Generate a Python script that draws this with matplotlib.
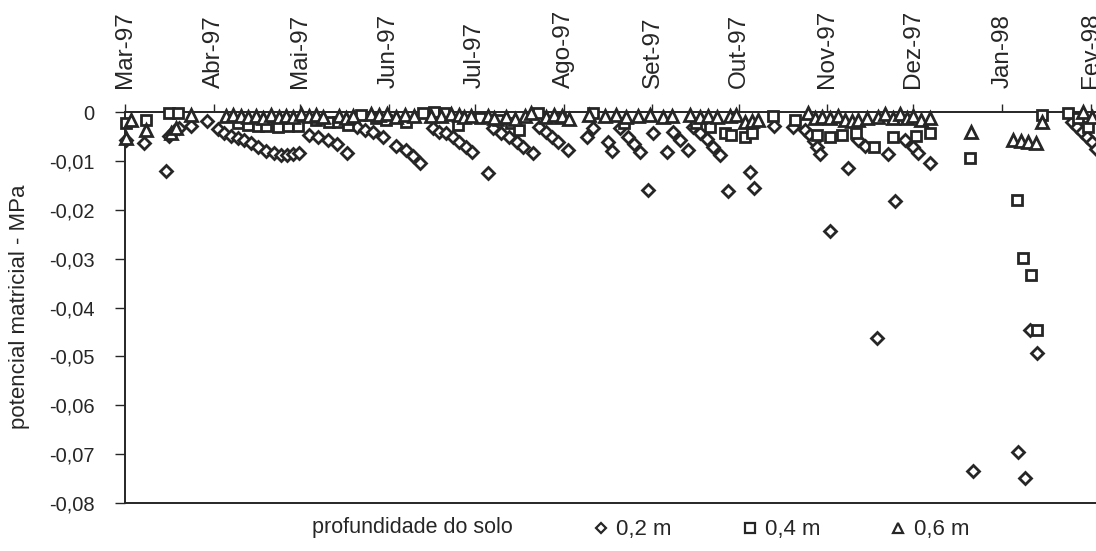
import numpy as np
import matplotlib
matplotlib.use("Agg")
import matplotlib.pyplot as plt
import matplotlib.dates as mdates
from matplotlib.lines import Line2D
from datetime import datetime, timedelta

plt.rcParams['font.family'] = ['Liberation Sans', 'DejaVu Sans']

START = datetime(1997, 3, 1)

month_labels = ["Mar-97", "Abr-97", "Mai-97", "Jun-97", "Jul-97", "Ago-97",
                "Set-97", "Out-97", "Nov-97", "Dez-97", "Jan-98", "Fev-98"]
month_starts = ["1997-03-01", "1997-04-01", "1997-05-01", "1997-06-01", "1997-07-01",
                "1997-08-01", "1997-09-01", "1997-10-01", "1997-11-01", "1997-12-01",
                "1998-01-01", "1998-02-01"]

# days since 1 Mar 1997 and matric potential (MPa)
d02_days = [0.3, 6.6, 14.3, 15.3, 17, 18.8, 23, 28.6, 32.4, 34.5, 36.9, 39.4, 41.5, 43.9,
            46.3, 49.1, 51.9, 54.4, 56.4, 58.5, 60.6, 64.1, 67.2, 70.7, 73.9, 77.4, 80.8,
            83.6, 86.4, 89.9, 94.4, 97.9, 100.3, 102.8, 107.3, 109.4, 111.8, 114.3, 116.4,
            118.8, 120.9, 126.5, 128.2, 131, 133.8, 136.9, 139, 142.2, 144.3, 146.7, 149.1,
            151.2, 154.4, 161.3, 163.1, 168.6, 170, 172.8, 175.3, 177.4, 179.8, 182.6, 184.3,
            189.2, 191.3, 193.7, 196.5, 198.3, 200.7, 203.1, 205.2, 207.7, 210.5, 218.1,
            219.5, 226.5, 233.1, 237.3, 239, 240.4, 241.5, 242.5, 246, 252.3, 255.7, 258.2,
            262.4, 266.2, 268.6, 272.1, 274.9, 276.7, 280.8, 295.8, 311.5, 313.9, 315.7,
            318.1, 330.3, 332.1, 333.8, 335.5, 337.3, 338.7]
d02_vals = [-0.0057, -0.0063, -0.0121, -0.0049, -0.0039, -0.0033, -0.0029, -0.0018, -0.0035,
            -0.0043, -0.0049, -0.0053, -0.0057, -0.0063, -0.0072, -0.0080, -0.0084, -0.0088,
            -0.0088, -0.0086, -0.0084, -0.0047, -0.0051, -0.0057, -0.0065, -0.0084, -0.0031,
            -0.0037, -0.0041, -0.0051, -0.0070, -0.0078, -0.0090, -0.0104, -0.0033, -0.0041,
            -0.0043, -0.0051, -0.0061, -0.0072, -0.0082, -0.0125, -0.0033, -0.0043, -0.0051,
            -0.0061, -0.0072, -0.0084, -0.0031, -0.0041, -0.0051, -0.0061, -0.0078, -0.0051,
            -0.0033, -0.0061, -0.0080, -0.0033, -0.0051, -0.0065, -0.0082, -0.0160, -0.0043,
            -0.0082, -0.0041, -0.0057, -0.0078, -0.0031, -0.0043, -0.0055, -0.0072, -0.0088,
            -0.0162, -0.0123, -0.0155, -0.0029, -0.0031, -0.0037, -0.0047, -0.0059, -0.0072,
            -0.0086, -0.0243, -0.0115, -0.0057, -0.0070, -0.0462, -0.0086, -0.0182, -0.0057,
            -0.0072, -0.0084, -0.0104, -0.0734, -0.0695, -0.0748, -0.0446, -0.0493, -0.0020,
            -0.0031, -0.0041, -0.0051, -0.0061, -0.0076]

d04_days = [0.3, 7.3, 15.3, 18.5, 39.4, 42.9, 46.3, 49.1, 53.3, 56.8, 60.3, 66.6, 71.1, 74.2,
            77.7, 82.2, 87.5, 90.9, 97.9, 103.8, 107.7, 111.1, 116, 124, 130, 134.5, 137.6,
            143.9, 151.9, 163.4, 173.9, 199, 204.2, 209.4, 211.5, 216.4, 218.8, 226.1, 233.8,
            241.5, 246, 250.2, 255, 261.3, 267.9, 276, 280.8, 294.8, 311.1, 313.2, 316,
            318.1, 319.9, 328.9, 332.4, 335.9]
d04_vals = [-0.0022, -0.0016, -0.0002, -0.0002, -0.0022, -0.0027, -0.0029, -0.0029, -0.0031,
            -0.0029, -0.0029, -0.0016, -0.0020, -0.0020, -0.0027, -0.0006, -0.0012, -0.0016,
            -0.0020, -0.0002, 0.0, -0.0002, -0.0027, -0.0012, -0.0016, -0.0022, -0.0037,
            -0.0002, -0.0012, -0.0002, -0.0022, -0.0022, -0.0031, -0.0043, -0.0047, -0.0051,
            -0.0043, -0.0008, -0.0016, -0.0047, -0.0051, -0.0047, -0.0043, -0.0072, -0.0051,
            -0.0049, -0.0043, -0.0094, -0.0180, -0.0299, -0.0333, -0.0446, -0.0006, -0.0002,
            -0.0012, -0.0031]

d06_days = [0.3, 2.1, 7.3, 16, 17.8, 23, 35.2, 37.6, 40.4, 42.9, 45.6, 48.1, 50.9, 53.7,
            56.1, 58.5, 61.3, 64.1, 66.6, 69, 74.6, 77, 79.4, 85.7, 88.5, 91.3, 94.4, 97.6,
            100.7, 106.6, 110.1, 113.6, 116.4, 118.1, 120.6, 126.5, 128.6, 132.8, 136.2,
            139.7, 141.5, 146.7, 149.5, 152.6, 154.7, 161.7, 167.6, 171.1, 174.6, 179.1,
            183.3, 187.5, 190.9, 197.2, 200.7, 203.5, 206.6, 211.1, 213.2, 216.4, 218.8,
            220.9, 238.3, 240.8, 243.2, 246, 248.8, 251.2, 253.7, 255.7, 258.9, 262.7, 265.2,
            267.9, 270.4, 272.8, 275, 277.5, 280.8, 295.1, 309.8, 312.5, 315, 317.8, 319.9,
            334.1, 337.3]
d06_vals = [-0.0053, -0.0016, -0.0037, -0.0043, -0.0033, -0.0006, -0.0008, -0.0006, -0.0008,
            -0.0010, -0.0008, -0.0012, -0.0006, -0.0010, -0.0008, -0.0010, -0.0004, -0.0008,
            -0.0006, -0.0010, -0.0008, -0.0012, -0.0008, -0.0004, -0.0006, -0.0004, -0.0010,
            -0.0006, -0.0008, -0.0008, -0.0008, -0.0004, -0.0006, -0.0010, -0.0008, -0.0008,
            -0.0012, -0.0010, -0.0014, -0.0008, -0.0002, -0.0010, -0.0006, -0.0008, -0.0014,
            -0.0006, -0.0008, -0.0006, -0.0010, -0.0008, -0.0006, -0.0010, -0.0008, -0.0006,
            -0.0010, -0.0008, -0.0010, -0.0008, -0.0006, -0.0020, -0.0018, -0.0016, -0.0002,
            -0.0012, -0.0010, -0.0012, -0.0008, -0.0016, -0.0018, -0.0016, -0.0012, -0.0010,
            -0.0004, -0.0012, -0.0004, -0.0012, -0.0008, -0.0016, -0.0012, -0.0041, -0.0057,
            -0.0059, -0.0061, -0.0063, -0.0020, 0.0, -0.0010]

ytick_vals = [0, -0.01, -0.02, -0.03, -0.04, -0.05, -0.06, -0.07, -0.08]
ytick_labels = ["0", "-0,01", "-0,02", "-0,03", "-0,04", "-0,05", "-0,06", "-0,07", "-0,08"]

legend_labels = ["0,2 m", "0,4 m", "0,6 m"]
ylabel = "potencial matricial - MPa"
xlabel = "profundidade do solo"

INK = "#262626"

def to_num(days):
    base = mdates.date2num(START)
    return [base + d for d in days]

fig = plt.figure(figsize=(10.96, 5.51), dpi=100)
W, H = 1096, 551
ax = fig.add_axes([125 / W, 48 / H, (W - 125) / W, (503 - 112) / H])

mk = dict(linestyle="none", markerfacecolor="white", markeredgecolor=INK,
          markeredgewidth=2.0, clip_on=False)
ax.plot(to_num(d02_days), d02_vals, marker="D", markersize=6, **mk, zorder=3)
ax.plot(to_num(d04_days), d04_vals, marker="s", markersize=7.5, **mk, zorder=4)
ax.plot(to_num(d06_days), d06_vals, marker="^", markersize=8, **mk, zorder=5)

x0 = mdates.date2num(START)
ax.set_xlim(x0, x0 + 338.7)
ax.set_ylim(-0.08, 0)

ax.set_yticks(ytick_vals)
ax.set_yticklabels(ytick_labels)
ax.tick_params(axis="y", direction="out", length=7, width=1, colors=INK,
               labelsize=14.5, pad=15)

ax.xaxis.set_ticks_position("top")
ax.xaxis.set_label_position("top")
ax.set_xticks([mdates.date2num(datetime.strptime(m, "%Y-%m-%d")) for m in month_starts])
ax.set_xticklabels(month_labels, rotation=90)
ax.tick_params(axis="x", direction="out", length=6, width=1, colors=INK,
               labelsize=17.5, pad=11)

for s in ["left", "top", "bottom"]:
    ax.spines[s].set_color(INK)
    ax.spines[s].set_linewidth(1.4)
ax.spines["right"].set_visible(False)

fig.text(20 / W, 1 - 307 / H, ylabel, rotation=90, ha="center", va="center",
         fontsize=16, color=INK)
fig.text(412 / W, 1 - 528 / H, xlabel, ha="center", va="center", fontsize=15.5, color=INK)

handles = [Line2D([], [], linestyle="none", marker=m, markersize=ms, markerfacecolor="white",
                  markeredgecolor=INK, markeredgewidth=1.6)
           for m, ms in (("D", 5), ("s", 6.5), ("^", 7))]
leg = fig.legend(handles, legend_labels, ncol=3, loc="center left",
                 bbox_to_anchor=(594 / W, 1 - 530 / H), frameon=False, fontsize=16,
                 handlelength=0.6, handletextpad=0.4, columnspacing=3.2,
                 borderpad=0, borderaxespad=0)
for t in leg.get_texts():
    t.set_color(INK)

fig.savefig("out.png", dpi=100)
